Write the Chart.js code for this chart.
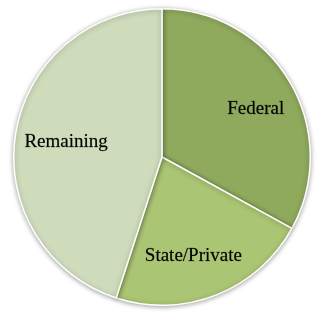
<!DOCTYPE html>
<html>
<head>
<meta charset="utf-8">
<script src="https://cdn.jsdelivr.net/npm/chart.js@4"></script>
<style>
  html, body { margin: 0; padding: 0; background: #fff; }
</style>
</head>
<body>
<canvas id="grafico" width="324" height="318"></canvas>
<script>
// datos del gráfico
const categorias = ['Federal', 'State/Private', 'Remaining'];
const valores = [33, 22, 45];
const colores = ['#8fa95d', '#aac573', '#cfdcbb'];
// posición de cada etiqueta: fracción del radio y giro extra (grados)
const distEtiquetas = [0.71, 0.70, 0.655];
const giroEtiquetas = [3.5, 4, 0];

// sombra suave alrededor del pastel
const sombraPlugin = {
    id: 'sombra',
    beforeDatasetsDraw(chart) {
        const ctx = chart.ctx;
        ctx.save();
        ctx.shadowColor = 'rgba(0,0,0,0.35)';
        ctx.shadowBlur = 5;
        ctx.shadowOffsetX = 0;
        ctx.shadowOffsetY = 1;
    },
    afterDatasetsDraw(chart) {
        chart.ctx.restore();
    }
};

// etiquetas dentro de cada porción
const etiquetasPlugin = {
    id: 'etiquetas',
    afterDraw(chart) {
        const ctx = chart.ctx;
        const meta = chart.getDatasetMeta(0);
        ctx.save();
        ctx.fillStyle = '#000';
        ctx.strokeStyle = 'rgba(0,0,0,0.5)';
        ctx.lineWidth = 0.35;
        ctx.font = '19px "Liberation Serif", "DejaVu Serif", serif';
        ctx.textAlign = 'center';
        ctx.textBaseline = 'middle';
        meta.data.forEach((arc, i) => {
            const p = arc.getProps(['x', 'y', 'startAngle', 'endAngle', 'outerRadius'], true);
            const mid = (p.startAngle + p.endAngle) / 2 + giroEtiquetas[i] * Math.PI / 180;
            const r = p.outerRadius * distEtiquetas[i];
            const x = p.x + Math.cos(mid) * r;
            const y = p.y + Math.sin(mid) * r;
            ctx.fillText(categorias[i], x, y);
            ctx.strokeText(categorias[i], x, y);
        });
        ctx.restore();
    }
};

var ctx = document.getElementById('grafico').getContext('2d');
var grafico = new Chart(ctx, {
    type: 'pie',
    data: {
        labels: categorias,
        datasets: [{
            data: valores,
            backgroundColor: colores,
            borderColor: '#ffffff',
            borderWidth: 1.5
        }]
    },
    options: {
        responsive: false,
        animation: false,
        layout: {
            padding: { top: 8, bottom: 12, left: 0, right: 0 }
        },
        plugins: {
            legend: { display: false },
            tooltip: { enabled: false }
        }
    },
    plugins: [sombraPlugin, etiquetasPlugin]
});
</script>
</body>
</html>
